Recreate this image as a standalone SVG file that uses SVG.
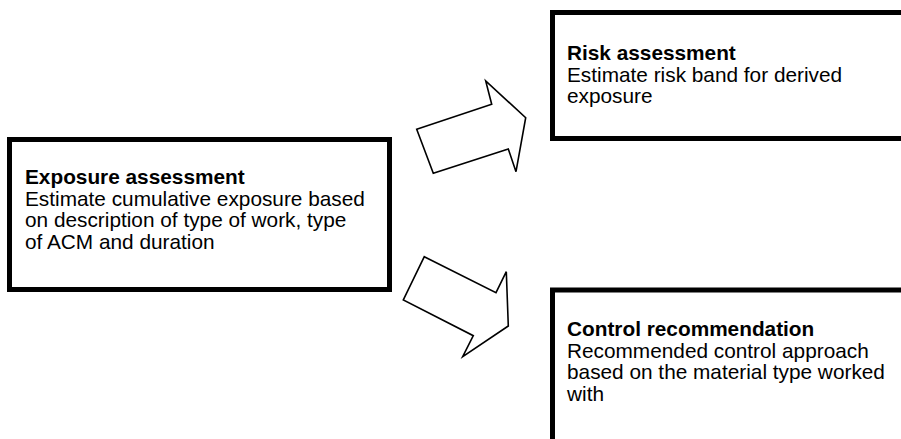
<svg xmlns="http://www.w3.org/2000/svg" width="901" height="439" viewBox="0 0 901 439">
<style>
.box{fill:#fff;stroke:#000;stroke-width:5}
.arrow{fill:#fff;stroke:#000;stroke-width:1.6;stroke-linejoin:miter}
text{font-family:"Liberation Sans",Arial,sans-serif;font-size:20.8px;fill:#000}
.b{font-weight:bold}
</style>
<rect width="901" height="439" fill="#fff"/>
<g id="connectors">
<polygon class="arrow" points="416.7,129.3 491.7,104.3 485.7,81 525.7,117.7 516,171.7 508.3,149 433.3,173.3"/>
<polygon class="arrow" points="424.3,256.7 496,292.7 506.3,271.7 508.3,326 462.7,356.7 473.3,335.7 403.3,300"/>
</g>
<g id="exposure">
<rect class="box" x="9.5" y="139.5" width="380" height="150"/>
<text x="25" y="184"><tspan class="b">Exposure assessment</tspan><tspan x="25" y="205.5">Estimate cumulative exposure based</tspan><tspan x="25" y="227">on description of type of work, type</tspan><tspan x="25" y="248.5">of ACM and duration</tspan></text>
</g>
<g id="risk">
<rect class="box" x="552.5" y="12.5" width="360" height="126"/>
<text x="567" y="60"><tspan class="b">Risk assessment</tspan><tspan x="567" y="81.5">Estimate risk band for derived</tspan><tspan x="567" y="103">exposure</tspan></text>
</g>
<g id="control">
<rect class="box" x="552.5" y="290" width="360" height="160"/>
<text x="567" y="336"><tspan class="b">Control recommendation</tspan><tspan x="567" y="357.5">Recommended control approach</tspan><tspan x="567" y="379">based on the material type worked</tspan><tspan x="567" y="400.5">with</tspan></text>
</g>
</svg>
